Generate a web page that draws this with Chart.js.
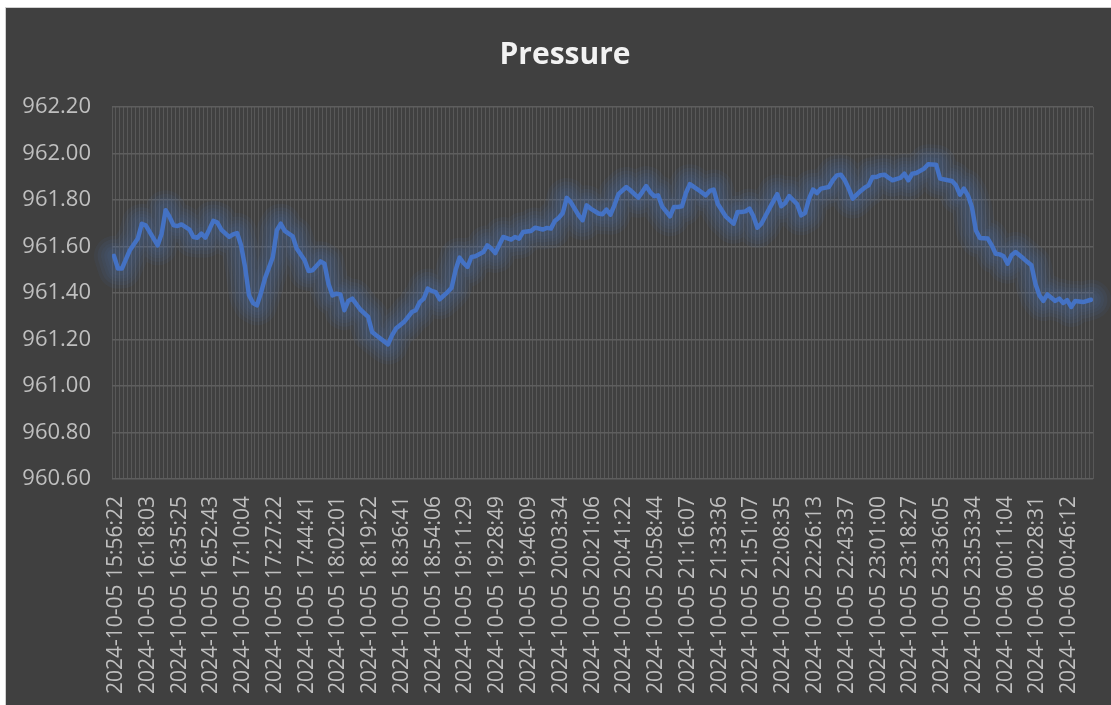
<!DOCTYPE html>
<html>
<head>
<meta charset="utf-8">
<script src="https://cdn.jsdelivr.net/npm/chart.js@4.4.1/dist/chart.umd.min.js"></script>
<style>
  html, body { margin: 0; padding: 0; background: #ffffff; overflow: hidden; width: 1111px; height: 705px; }
  #wrap { position: absolute; left: 5px; top: 7px; width: 1119px; height: 698px;
          background: #404040; border-left: 1px solid #d0d0d0; border-top: 1px solid #d0d0d0; }
  canvas { display: block; }
</style>
</head>
<body>
<div id="wrap"><canvas id="c" width="1118" height="697"></canvas></div>
<script>
// ---- data ----
const categoryCount = 247;            // number of samples on the category axis
const labelEvery = 8;                 // one tick label every 8 samples
const tickLabels = [
  "2024-10-05 15:56:22","2024-10-05 16:18:03","2024-10-05 16:35:25","2024-10-05 16:52:43",
  "2024-10-05 17:10:04","2024-10-05 17:27:22","2024-10-05 17:44:41","2024-10-05 18:02:01",
  "2024-10-05 18:19:22","2024-10-05 18:36:41","2024-10-05 18:54:06","2024-10-05 19:11:29",
  "2024-10-05 19:28:49","2024-10-05 19:46:09","2024-10-05 20:03:34","2024-10-05 20:21:06",
  "2024-10-05 20:41:22","2024-10-05 20:58:44","2024-10-05 21:16:07","2024-10-05 21:33:36",
  "2024-10-05 21:51:07","2024-10-05 22:08:35","2024-10-05 22:26:13","2024-10-05 22:43:37",
  "2024-10-05 23:01:00","2024-10-05 23:18:27","2024-10-05 23:36:05","2024-10-05 23:53:34",
  "2024-10-06 00:11:04","2024-10-06 00:28:31","2024-10-06 00:46:12"
];
// sample index (category position) of each read-off vertex of the line
const sampleIndex = [
  0,1,2,4,6,7,8,11,12,13,14,15,16,17,19,20,21,22,23,24,25,26,27,29,30,31,32,33,34,35,36,37,38,39,40,
  41,42,43,45,46,48,49,50,52,53,54,55,56,57,58,59,60,62,64,65,66,69,70,71,73,75,76,77,78,79,80,81,82,
  84,85,86,87,88,89,90,91,93,94,95,96,98,100,101,102,103,105,106,108,109,110,111,112,113,114,115,117,
  118,119,120,122,123,124,125,126,127,129,130,132,133,134,135,136,137,138,140,141,142,143,144,145,147,
  149,150,151,152,154,156,157,158,159,160,161,162,163,165,167,168,169,170,172,173,174,175,176,177,178,
  180,181,182,183,184,185,186,188,189,190,191,192,193,194,195,196,198,199,200,201,202,204,205,207,208,
  210,211,212,213,214,215,216,217,218,220,221,222,223,224,225,226,227,229,230,231,232,233,234,235,237,
  238,239,240,241,242,244,246
];
const pressure = [
  961.56,961.505,961.505,961.584,961.634,961.698,961.691,961.605,961.655,961.756,961.727,961.691,961.688,
  961.695,961.673,961.641,961.638,961.655,961.638,961.673,961.710,961.704,961.673,961.641,961.652,961.658,
  961.605,961.512,961.390,961.357,961.347,961.40,961.462,961.509,961.555,
  961.670,961.698,961.667,961.644,961.591,961.541,961.495,961.498,961.536,961.526,961.440,961.390,961.397,
  961.394,961.326,961.366,961.376,961.329,961.297,961.232,961.218,961.179,961.218,961.247,961.275,961.318,
  961.326,961.361,961.376,961.419,961.409,961.404,961.373,
  961.404,961.423,961.498,961.552,961.529,961.512,961.555,961.558,961.576,961.605,961.591,961.572,961.641,
  961.630,961.641,961.634,961.662,961.667,961.681,961.673,961.680,961.677,961.710,961.724,961.744,961.809,
  961.791,961.734,
  961.713,961.777,961.763,961.742,961.739,961.759,961.737,961.777,961.825,961.856,961.842,961.810,961.834,
  961.860,961.834,961.816,961.820,961.773,961.730,961.770,961.770,961.773,961.830,961.868,961.845,
  961.820,961.839,961.845,961.784,961.730,961.698,961.748,961.748,961.751,961.763,961.730,961.681,961.698,
  961.763,961.825,961.773,961.787,961.817,961.782,961.734,961.744,961.806,961.845,961.830,961.849,
  961.856,961.885,961.906,961.909,961.885,961.849,961.806,961.839,961.853,961.863,961.899,961.899,961.907,
  961.909,961.896,961.885,961.895,961.913,961.885,961.913,961.916,961.935,961.954,961.952,961.892,
  961.885,961.882,961.863,961.823,961.849,961.820,961.770,961.670,961.637,961.634,961.605,961.569,961.566,
  961.558,961.526,961.562,961.576,961.548,961.533,961.519,961.440,961.390,961.366,961.394,961.366,
  961.376,961.357,961.369,961.340,961.366,961.361,961.371
];
const yMin = 960.6, yMax = 962.2, yStep = 0.2;

// ---- chart ----
const points = sampleIndex.map((i, k) => ({ x: i + 0.5, y: pressure[k] }));

// soft blue halo under the line (Excel "glow" effect)
const glow = {
  id: 'glow',
  beforeDatasetDraw(chart, args) {
    const meta = chart.getDatasetMeta(args.index);
    const pts = meta.data;
    const ctx = chart.ctx;
    const area = chart.chartArea;
    ctx.save();
    ctx.beginPath();
    ctx.rect(area.left - 20, area.top - 20, area.right - area.left + 40, area.bottom - area.top + 40);
    ctx.clip();
    ctx.lineJoin = 'round';
    ctx.lineCap = 'round';
    const widths = [40, 33, 26, 20, 14];
    widths.forEach(w => {
      ctx.beginPath();
      pts.forEach((p, i) => i ? ctx.lineTo(p.x, p.y) : ctx.moveTo(p.x, p.y));
      ctx.strokeStyle = 'rgba(68,114,196,0.065)';
      ctx.lineWidth = w;
      ctx.stroke();
    });
    ctx.restore();
  }
};

new Chart(document.getElementById('c'), {
  type: 'line',
  data: {
    datasets: [{
      label: 'Pressure',
      data: points,
      borderColor: '#4472C4',
      borderWidth: 4.5,
      pointRadius: 0,
      tension: 0,
      borderJoinStyle: 'round',
      borderCapStyle: 'round',
      fill: false
    }]
  },
  options: {
    responsive: false,
    animation: false,
    events: [],
    layout: { padding: 0 },
    plugins: {
      legend: { display: false },
      tooltip: { enabled: false },
      title: {
        display: true,
        text: 'Pressure',
        color: '#f2f2f2',
        font: { family: 'Open Sans', size: 30, weight: 'bold', lineHeight: 1.2 },
        padding: { top: 29, bottom: 34 }
      }
    },
    scales: {
      x: {
        type: 'linear',
        min: 0,
        max: categoryCount,
        afterFit: (s) => { s.height = 226; s.paddingLeft = 0; s.paddingRight = 31; },
        border: { display: false },
        grid: { color: '#585858', lineWidth: 1, drawTicks: false },
        ticks: {
          stepSize: 1,
          maxTicksLimit: 1000,
          autoSkip: false,
          minRotation: 90,
          maxRotation: 90,
          padding: 17,
          labelOffset: 4,
          color: '#bfbfbf',
          font: { family: 'Open Sans', size: 21 },
          callback: (v) => (v % labelEvery === 0 && tickLabels[v / labelEvery]) ? tickLabels[v / labelEvery] : ''
        }
      },
      y: {
        min: yMin,
        max: yMax,
        afterFit: (s) => { s.width = 106; },
        border: { display: false },
        grid: { color: '#5e5e5e', lineWidth: 1.5, drawTicks: false },
        ticks: {
          stepSize: yStep,
          padding: 21,
          color: '#bfbfbf',
          font: { family: 'Open Sans', size: 22 },
          callback: (v) => Number(v).toFixed(2)
        }
      }
    }
  },
  plugins: [glow]
});
</script>
</body>
</html>
